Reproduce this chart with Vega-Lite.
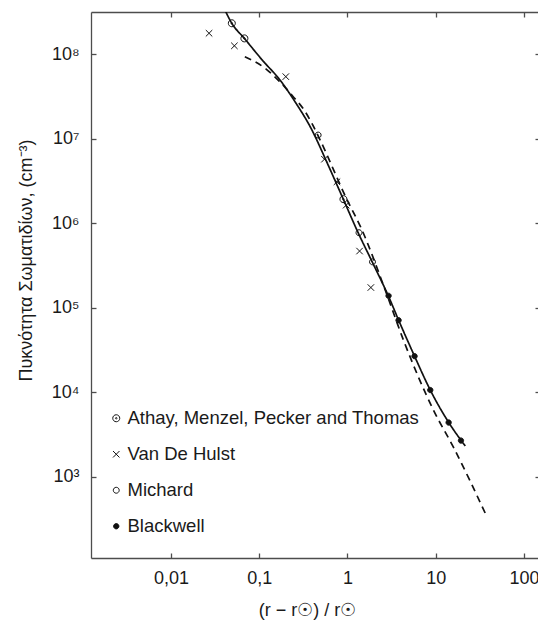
{
  "$schema": "https://vega.github.io/schema/vega-lite/v6.json",
  "width": 449,
  "height": 546,
  "autosize": "none",
  "padding": {"left": 91, "top": 12, "right": 0, "bottom": 65},
  "background": "white",
  "config": {
    "view": {"stroke": null},
    "font": "Liberation Sans",
    "axis": {
      "grid": false,
      "domainColor": "#4d4d4d",
      "domainWidth": 1.3,
      "tickColor": "#4d4d4d",
      "tickWidth": 1.3,
      "tickSize": -5,
      "labelFont": "Liberation Sans",
      "labelFontSize": 18,
      "labelColor": "#1a1a1a",
      "titleFont": "Liberation Sans",
      "titleFontSize": 18,
      "titleFontWeight": "normal",
      "titleColor": "#1a1a1a"
    }
  },
  "datasets": {
    "curves": [
      {"curve": "fit", "r": 0.0415, "n": 320000000},
      {"curve": "fit", "r": 0.0489, "n": 231000000},
      {"curve": "fit", "r": 0.0679, "n": 153000000},
      {"curve": "fit", "r": 0.108, "n": 85000000},
      {"curve": "fit", "r": 0.172, "n": 49200000},
      {"curve": "fit", "r": 0.262, "n": 26000000},
      {"curve": "fit", "r": 0.378, "n": 13800000},
      {"curve": "fit", "r": 0.604, "n": 4850000},
      {"curve": "fit", "r": 0.9, "n": 1900000},
      {"curve": "fit", "r": 1.32, "n": 770000},
      {"curve": "fit", "r": 1.9, "n": 350000},
      {"curve": "fit", "r": 2.9, "n": 138000},
      {"curve": "fit", "r": 3.8, "n": 71000},
      {"curve": "fit", "r": 5.75, "n": 26700},
      {"curve": "fit", "r": 8.67, "n": 10600},
      {"curve": "fit", "r": 14, "n": 4400},
      {"curve": "fit", "r": 21.6, "n": 2310},
      {"curve": "model", "r": 0.0687, "n": 93000000},
      {"curve": "model", "r": 0.1197, "n": 66400000},
      {"curve": "model", "r": 0.168, "n": 47900000},
      {"curve": "model", "r": 0.239, "n": 31900000},
      {"curve": "model", "r": 0.323, "n": 21700000},
      {"curve": "model", "r": 0.398, "n": 14900000},
      {"curve": "model", "r": 0.49, "n": 9600000},
      {"curve": "model", "r": 0.99, "n": 1880000},
      {"curve": "model", "r": 1.43, "n": 870000},
      {"curve": "model", "r": 2.68, "n": 161000},
      {"curve": "model", "r": 4.32, "n": 41000},
      {"curve": "model", "r": 9.45, "n": 6100},
      {"curve": "model", "r": 15.8, "n": 2250},
      {"curve": "model", "r": 38.1, "n": 334}
    ],
    "points": [
      {"source": "Athay, Menzel, Pecker and Thomas", "r": 0.0489, "n": 231000000},
      {"source": "Athay, Menzel, Pecker and Thomas", "r": 0.0679, "n": 153000000},
      {"source": "Athay, Menzel, Pecker and Thomas", "r": 0.9, "n": 1920000},
      {"source": "Van De Hulst", "r": 0.027, "n": 176000000},
      {"source": "Van De Hulst", "r": 0.0523, "n": 125000000},
      {"source": "Van De Hulst", "r": 0.2, "n": 54000000},
      {"source": "Van De Hulst", "r": 0.548, "n": 5700000},
      {"source": "Van De Hulst", "r": 0.76, "n": 3080000},
      {"source": "Van De Hulst", "r": 0.966, "n": 1630000},
      {"source": "Van De Hulst", "r": 1.37, "n": 467000},
      {"source": "Van De Hulst", "r": 1.84, "n": 173000},
      {"source": "Michard", "r": 0.465, "n": 11000000},
      {"source": "Michard", "r": 1.35, "n": 770000},
      {"source": "Michard", "r": 1.92, "n": 348000},
      {"source": "Blackwell", "r": 2.92, "n": 138000},
      {"source": "Blackwell", "r": 3.79, "n": 71000},
      {"source": "Blackwell", "r": 5.75, "n": 26700},
      {"source": "Blackwell", "r": 8.67, "n": 10600},
      {"source": "Blackwell", "r": 14, "n": 4380},
      {"source": "Blackwell", "r": 19.3, "n": 2680}
    ]
  },
  "layer": [
    {
      "data": {"name": "curves"},
      "mark": {"type": "line", "interpolate": "monotone", "color": "#111111", "strokeWidth": 1.7, "clip": true},
      "encoding": {
        "x": {
          "field": "r", "type": "quantitative",
          "scale": {"type": "log", "domain": [0.001241, 151.8], "nice": false},
          "axis": {
            "orient": "bottom",
            "values": [0.01, 0.1, 1, 10, 100],
            "labelExpr": "replace(format(datum.value, '~g'), '.', ',')",
            "labelPadding": 16,
            "title": "(r − r☉) / r☉",
            "titleX": 216,
            "titleY": 57,
            "titleBaseline": "alphabetic",
            "titleAlign": "center"
          }
        },
        "y": {
          "field": "n", "type": "quantitative",
          "scale": {"type": "log", "domain": [109.4, 314000000], "nice": false},
          "axis": {
            "orient": "left",
            "values": [1000, 10000, 100000, 1000000, 10000000, 100000000],
            "labelExpr": "'10' + ['⁰','¹','²','³','⁴','⁵','⁶','⁷','⁸','⁹'][round(log(datum.value) / LN10)]",
            "labelPadding": 17,
            "title": "Πυκνότητα Σωματιδίων, (cm⁻³)",
            "titleX": -60,
            "titleY": 248,
            "titleAngle": -90,
            "titleBaseline": "alphabetic",
            "titleAlign": "center"
          }
        },
        "strokeDash": {
          "field": "curve", "type": "nominal",
          "scale": {"domain": ["fit", "model"], "range": [[1, 0], [7, 5]]},
          "legend": null
        }
      }
    },
    {
      "data": {"name": "points"},
      "mark": {"type": "point", "filled": true, "stroke": "#111111", "strokeWidth": 1, "opacity": 1, "clip": true},
      "encoding": {
        "x": {
          "field": "r", "type": "quantitative",
          "axis": {"orient": "top", "values": [0.01, 0.1, 1, 10, 100], "labels": false, "title": null}
        },
        "y": {
          "field": "n", "type": "quantitative",
          "axis": {"orient": "right", "domain": false, "values": [1000, 10000, 100000, 1000000, 10000000, 100000000], "labels": false, "title": null}
        },
        "shape": {
          "field": "source", "type": "nominal",
          "scale": {
            "domain": ["Athay, Menzel, Pecker and Thomas", "Van De Hulst", "Michard", "Blackwell"],
            "range": [
              "M -1 0 A 1 1 0 1 0 1 0 A 1 1 0 1 0 -1 0 M -0.22 0 A 0.22 0.22 0 1 0 0.22 0 A 0.22 0.22 0 1 0 -0.22 0",
              "M -1 -1 L 1 1 M -1 1 L 1 -1",
              "M -1 0 A 1 1 0 1 0 1 0 A 1 1 0 1 0 -1 0",
              "M -1 0 A 1 1 0 1 0 1 0 A 1 1 0 1 0 -1 0"
            ]
          },
          "legend": {
            "orient": "none",
            "legendX": 16,
            "legendY": 397,
            "title": null,
            "padding": 0,
            "labelFont": "Liberation Sans",
            "labelFontSize": 18.5,
            "labelColor": "#1a1a1a",
            "labelOffset": 2,
            "rowPadding": 17,
            "symbolStrokeColor": "#111111",
            "symbolStrokeWidth": 1,
            "symbolOpacity": 1,
            "labelLimit": 400
          }
        },
        "fill": {
          "field": "source", "type": "nominal",
          "scale": {
            "domain": ["Athay, Menzel, Pecker and Thomas", "Van De Hulst", "Michard", "Blackwell"],
            "range": ["transparent", "transparent", "transparent", "#111111"]
          }
        },
        "size": {
          "field": "source", "type": "nominal",
          "scale": {
            "domain": ["Athay, Menzel, Pecker and Thomas", "Van De Hulst", "Michard", "Blackwell"],
            "range": [49, 28, 28, 25]
          }
        }
      }
    }
  ],
  "resolve": {"axis": {"x": "independent", "y": "independent"}}
}
